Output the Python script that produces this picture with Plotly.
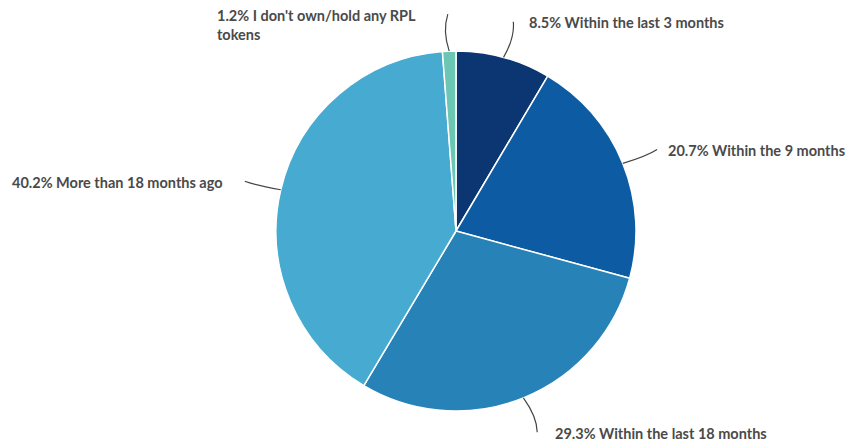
import math
import plotly.graph_objects as go

labels = ["Within the last 3 months", "Within the 9 months", "Within the last 18 months",
          "More than 18 months ago", "I don't own/hold any RPL<br>tokens"]
values = [8.5, 20.7, 29.3, 40.2, 1.2]
colors = ["#0c3672", "#0d5ca3", "#2782b7", "#47aad0", "#6cc6b4"]
label_gap = [14, 9, 16, 20, 30]  # horizontal gap between connector end and label (px)

W, H = 852, 443
cx, cy, R = 456, 231, 180  # pie centre and radius in pixels
R_line = 217
font = dict(family="Lato, Nunito, sans-serif", size=14.5, color="#4a4a4a")

fig = go.Figure(go.Pie(
    labels=labels, values=values, sort=False, direction="clockwise", rotation=0,
    marker=dict(colors=colors, line=dict(color="white", width=1.5)),
    textinfo="none", hoverinfo="label+percent", showlegend=False,
    domain=dict(x=[(cx - R) / W, (cx + R) / W], y=[(H - cy - R) / H, (H - cy + R) / H]),
))

total = sum(values)
cum = 0
for lab, v, gap in zip(labels, values, label_gap):
    mid = (cum + v / 2) / total * 2 * math.pi
    cum += v
    sx, sy = cx + R * math.sin(mid), cy - R * math.cos(mid)
    ex, ey = cx + R_line * math.sin(mid), cy - R_line * math.cos(mid)
    right = math.sin(mid) >= 0
    # slightly curved connector
    qx, qy = cx + (R + 20) * math.sin(mid), cy - (R + 20) * math.cos(mid)
    qx += (6 if right else -6)
    fig.add_shape(type="path",
                  path=f"M {sx/W},{1-sy/H} Q {qx/W},{1-qy/H} {ex/W},{1-ey/H}",
                  xref="paper", yref="paper", line=dict(color="#444", width=1.2))
    tx = ex + (gap if right else -gap)
    n_lines = lab.count("<br>") + 1
    fig.add_annotation(
        x=tx / W, y=1 - ey / H, xref="paper", yref="paper",
        text=f"<b>{v}% {lab}</b>", showarrow=False,
        xanchor="left" if right else "right", yanchor="middle", align="left",
        yshift=-(n_lines - 1) * 19 / 2 - 1, font=font)

fig.update_layout(width=W, height=H, margin=dict(l=0, r=0, t=0, b=0),
                  paper_bgcolor="white", plot_bgcolor="white")
fig.write_html("out.html", config={"displayModeBar": False})

with open("out.html", encoding="utf-8") as f:
    html = f.read()
html = html.replace("<body>", '<body style="margin:0;padding:0;overflow:hidden">', 1)
with open("out.html", "w", encoding="utf-8") as f:
    f.write(html)
